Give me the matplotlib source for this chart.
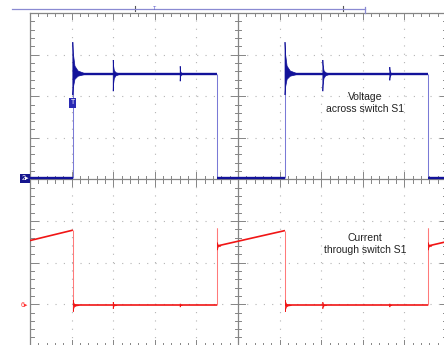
import numpy as np
import matplotlib.pyplot as plt
from matplotlib.collections import LineCollection
from matplotlib.patches import Polygon

plt.rcParams['font.family'] = ['Liberation Sans', 'DejaVu Sans']

# screen is 10 x 8 divisions, trace values below are in divisions
X_DIVS = 10
Y_HALF = 4

# channel 2 : voltage across switch S1
volt_x = [0.0, 1.03, 1.03, 4.50, 4.50, 6.13, 6.13, 9.57, 9.57, 10.0]
volt_y = [0.03, 0.03, 2.53, 2.53, 0.03, 0.03, 2.53, 2.53, 0.03, 0.03]

# ringing bursts on the voltage trace
volt_ring_x = [1.03, 2.00, 3.61, 6.13, 7.04, 8.65]
volt_ring_lvl = [2.53, 2.53, 2.53, 2.53, 2.53, 2.53]
volt_ring_top = [3.30, 2.87, 2.72, 3.30, 2.87, 2.70]
volt_ring_bot = [2.03, 2.12, 2.36, 2.03, 2.12, 2.38]
volt_ring_len = [0.28, 0.15, 0.09, 0.28, 0.15, 0.09]

# channel 6 : current through switch S1
curr_x = [0.0, 1.03, 1.03, 4.50, 4.50, 4.50, 6.13, 6.13, 9.57, 9.57, 9.57, 10.0]
curr_y = [-1.47, -1.22, -3.03, -3.03, -1.17, -1.60, -1.23, -3.03, -3.03, -1.17, -1.60, -1.50]

curr_ring_x = [1.04, 2.00, 3.61, 4.51, 6.14, 7.04, 8.65, 9.58]
curr_ring_lvl = [-3.03, -3.03, -3.03, -1.60, -3.03, -3.03, -3.03, -1.60]
curr_ring_top = [-2.90, -2.95, -2.99, -1.52, -2.90, -2.95, -2.99, -1.52]
curr_ring_bot = [-3.18, -3.11, -3.07, -1.70, -3.18, -3.11, -3.07, -1.70]
curr_ring_len = [0.14, 0.09, 0.05, 0.08, 0.14, 0.09, 0.05, 0.08]

# trigger bar above the screen
bar_start, bar_end = -0.433, 8.05
bar_marks = [2.52, 7.52]
trig_pos = 3.0

BLUE_DARK = '#12129a'
BLUE_EDGE = '#7a7ad6'
RED_DARK = '#f01515'
RED_EDGE = '#ff7a7a'
GRID = '#b4b4b4'
AXIS = '#858585'

# decay shape used for each ring burst
RING_FRAC = [0.0, 0.04, 0.18, 0.45, 1.0]
RING_AMP = [1.0, 0.65, 0.25, 0.1, 0.02]


def draw_trace(ax, xs, ys, dark, edge, lw):
    segs, cols, widths = [], [], []
    for i in range(len(xs) - 1):
        segs.append([(xs[i], ys[i]), (xs[i + 1], ys[i + 1])])
        if abs(xs[i + 1] - xs[i]) < 1e-6:
            cols.append(edge)
            widths.append(0.75)
        else:
            cols.append(dark)
            widths.append(lw)
    ax.add_collection(LineCollection(segs, colors=cols, linewidths=widths,
                                     capstyle='butt', zorder=4))


def draw_rings(ax, xs, lvls, tops, bots, lens, color):
    for x0, lv, tp, bt, ln in zip(xs, lvls, tops, bots, lens):
        upper = [(x0 + ln * f, lv + (tp - lv) * a) for f, a in zip(RING_FRAC, RING_AMP)]
        lower = [(x0 + ln * f, lv - (lv - bt) * a) for f, a in zip(RING_FRAC, RING_AMP)]
        ax.add_patch(Polygon(upper + lower[::-1], closed=True, fc=color,
                             ec=color, lw=0.5, zorder=5))


fig = plt.figure(figsize=(4.44, 3.45), dpi=100)
ax = fig.add_axes([30 / 444, -0.8 / 345, 416 / 444, 332.8 / 345])
ax.set_xlim(0, X_DIVS)
ax.set_ylim(-Y_HALF, Y_HALF)
ax.axis('off')

# dotted graticule
for gx in range(1, X_DIVS):
    if gx != X_DIVS // 2:
        ax.plot([gx, gx], [-Y_HALF, Y_HALF], color=GRID, lw=0.8,
                linestyle=(0, (1, 6.5)), zorder=1)
for gy in range(-Y_HALF + 1, Y_HALF):
    if gy != 0:
        ax.plot([0, X_DIVS], [gy, gy], color=GRID, lw=0.8,
                linestyle=(0, (1, 6.5)), zorder=1)

# border and centre cross
for seg in ([(0, -4), (0, 4)], [(0, 4), (10, 4)], [(0, -4), (10, -4)], [(10, -4), (10, 4)]):
    ax.plot(*zip(*seg), color=AXIS, lw=0.9, clip_on=False, zorder=2)
ax.plot([5, 5], [-4, 4], color=AXIS, lw=0.9, zorder=2)
ax.plot([0, 10], [0, 0], color=AXIS, lw=0.9, zorder=2)

minor_x = np.round(np.arange(0, X_DIVS + 0.01, 0.2), 2)
minor_y = np.round(np.arange(-Y_HALF, Y_HALF + 0.01, 0.2), 2)
for t in minor_x:
    major = abs(t - round(t)) < 1e-6
    c = 0.17 if major else 0.075
    b = 0.2 if major else 0.1
    ax.plot([t, t], [-c, c], color=AXIS, lw=0.7, zorder=2)
    ax.plot([t, t], [4, 4 - b * 0.75], color=AXIS, lw=0.7, clip_on=False, zorder=2)
    ax.plot([t, t], [-4, -4 + b * 0.75], color=AXIS, lw=0.7, clip_on=False, zorder=2)
for t in minor_y:
    major = abs(t - round(t)) < 1e-6
    c = 0.17 if major else 0.075
    b = 0.2 if major else 0.1
    ax.plot([5 - c, 5 + c], [t, t], color=AXIS, lw=0.7, zorder=2)
    ax.plot([0, b], [t, t], color=AXIS, lw=0.7, clip_on=False, zorder=2)
    ax.plot([10, 10 - b * 0.7], [t, t], color=AXIS, lw=0.7, clip_on=False, zorder=2)

# traces
draw_trace(ax, volt_x, volt_y, BLUE_DARK, BLUE_EDGE, 1.7)
draw_rings(ax, volt_ring_x, volt_ring_lvl, volt_ring_top, volt_ring_bot,
           volt_ring_len, BLUE_DARK)
draw_trace(ax, curr_x, curr_y, RED_DARK, RED_EDGE, 1.2)
draw_rings(ax, curr_ring_x, curr_ring_lvl, curr_ring_top, curr_ring_bot,
           curr_ring_len, RED_DARK)

# trigger bar on top
ax.plot([bar_start, bar_end], [4.096, 4.096], color='#8a8ad2', lw=0.9,
        clip_on=False, zorder=3)
ax.plot([bar_end, bar_end], [4.0, 4.15], color='#8a8ad2', lw=0.9, clip_on=False)
for m in bar_marks:
    ax.plot([m, m], [4.04, 4.16], color='#555555', lw=0.8, clip_on=False)
ax.text(trig_pos, 4.12, 'T', fontsize=4, color='#5a5ac8', ha='center',
        va='center', clip_on=False)

# channel markers
ax.text(-0.03, 0.02, '2\u25b8', fontsize=5, color='white', ha='right', va='center',
        bbox=dict(boxstyle='square,pad=0.2', fc='#16168e', ec='none'), clip_on=False)
ax.text(-0.05, -3.02, '6\u25b8', fontsize=5, color='#ff3030', ha='right',
        va='center', clip_on=False)
ax.text(1.03, 1.84, 'T', fontsize=5, color='white', ha='center', va='center',
        bbox=dict(boxstyle='square,pad=0.2', fc='#2a2ab4', ec='none'), zorder=6)

# labels
ax.text(8.05, 1.84, 'Voltage\nacross switch S1', fontsize=7.5, ha='center',
        va='center', linespacing=1.3, color='#222222', zorder=6)
ax.text(8.05, -1.55, 'Current\nthrough switch S1', fontsize=7.5, ha='center',
        va='center', linespacing=1.3, color='#222222', zorder=6)

fig.savefig('out.png', dpi=100)
